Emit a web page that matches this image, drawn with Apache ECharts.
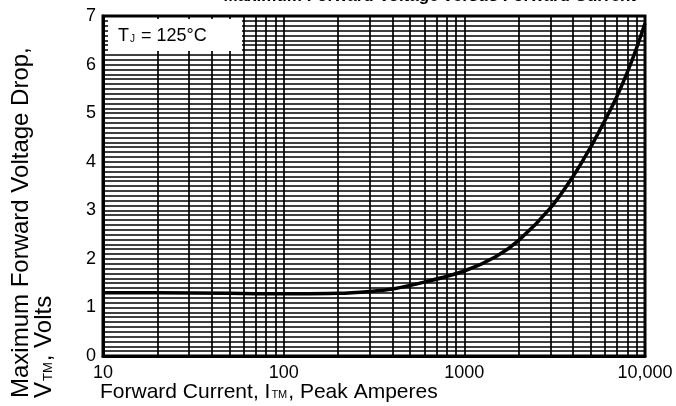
<!DOCTYPE html>
<html>
<head>
<meta charset="utf-8">
<script src="https://cdn.jsdelivr.net/npm/echarts@6/dist/echarts.min.js"></script>
<style>html,body{margin:0;padding:0;background:#fff;}#c{width:676px;height:406px;}</style>
</head>
<body>
<div id="c"></div>
<script>
// Forward current (A) and maximum forward voltage drop (V)
const currents = [10, 20, 50, 100, 200, 300, 400, 600, 1000, 1500, 2000, 3000, 4000, 5000, 6000, 7000, 8000, 9000, 10000];
const voltages = [1.3, 1.3, 1.29, 1.28, 1.29, 1.33, 1.38, 1.52, 1.75, 2.05, 2.38, 3.05, 3.7, 4.3, 4.85, 5.35, 5.85, 6.35, 6.85];
// log-paper vertical rulings between decades
const gridCurrents = [20, 30, 40, 50, 60, 70, 80, 90, 200, 300, 400, 500, 600, 700, 800, 900, 2000, 3000, 4000, 5000, 6000, 7000, 8000, 9000];
const xTickLabels = {10: '10', 100: '100', 1000: '1000', 10000: '10,000'};

const FONT = 'Liberation Sans, Arial, sans-serif';
const chart = echarts.init(document.getElementById('c'));
chart.setOption({
  animation: false,
  backgroundColor: '#fff',
  grid: {left: 103, right: 31, top: 16, bottom: 50, show: true, borderColor: '#000', borderWidth: 3, backgroundColor: 'transparent'},
  xAxis: {
    type: 'log', logBase: 10, min: 10, max: 10000,
    axisLine: {show: true, lineStyle: {color: '#000', width: 3}},
    axisTick: {show: false},
    axisLabel: {color: '#000', fontSize: 18, fontFamily: FONT, margin: 8,
      formatter: v => xTickLabels[Math.round(v)] || ''},
    splitLine: {show: true, lineStyle: {color: '#000', width: 1.7}},
    minorTick: {show: false}, minorSplitLine: {show: false}
  },
  yAxis: {
    type: 'value', min: 0, max: 7, interval: 1,
    axisLine: {show: true, lineStyle: {color: '#000', width: 3}},
    axisTick: {show: false},
    axisLabel: {color: '#000', fontSize: 18, fontFamily: FONT, margin: 7},
    splitLine: {show: true, lineStyle: {color: '#000', width: 1.7}},
    minorTick: {show: false, splitNumber: 10},
    minorSplitLine: {show: true, lineStyle: {color: '#000', width: 1.7}}
  },
  series: [{
    type: 'line',
    data: currents.map((c, i) => [c, voltages[i]]),
    smooth: 0.3,
    symbol: 'none',
    lineStyle: {color: '#000', width: 3.5},
    z: 5,
    markLine: {
      silent: true, symbol: 'none', label: {show: false},
      lineStyle: {color: '#000', width: 1.7, type: 'solid'},
      data: gridCurrents.map(v => ({xAxis: v}))
    }
  }],
  graphic: [
    {type: 'rect', shape: {x: 108, y: 19, width: 134, height: 32}, style: {fill: '#fff'}, z: 10},
    {type: 'text', x: 118, y: 36, z: 11, style: {
      text: '{a|T}{b|J}{a| = 125°C}', textVerticalAlign: 'middle',
      rich: {a: {fontSize: 18, fontFamily: FONT, fill: '#000'}, b: {fontSize: 10, fontFamily: FONT, fill: '#000', padding: [6, 1, 0, 1]}}
    }},
    {type: 'text', x: 100, y: 392, z: 11, style: {
      text: '{a|Forward Current, I}{b|TM}{a|, Peak Amperes}', textVerticalAlign: 'middle',
      rich: {a: {fontSize: 21, fontFamily: FONT, fill: '#000'}, b: {fontSize: 11, fontFamily: FONT, fill: '#000', padding: [6, 1, 0, 1]}}
    }},
    {type: 'text', x: 21, y: 398, rotation: Math.PI / 2, z: 11, style: {
      text: 'Maximum Forward Voltage Drop,', textVerticalAlign: 'middle', textAlign: 'left',
      fontSize: 24, fontFamily: FONT, fill: '#000'
    }},
    {type: 'text', x: 44, y: 398, rotation: Math.PI / 2, z: 11, style: {
      text: '{a|V}{b|TM}{a|, Volts}', textVerticalAlign: 'middle', textAlign: 'left',
      rich: {a: {fontSize: 24, fontFamily: FONT, fill: '#000'}, b: {fontSize: 13, fontFamily: FONT, fill: '#000', padding: [8, 1, 0, 1]}}
    }},
    {type: 'text', x: 636, y: 5, z: 11, style: {
      text: 'Maximum Forward Voltage versus Forward Current', textAlign: 'right', textVerticalAlign: 'bottom',
      fontSize: 17, fontWeight: 'bold', fontFamily: FONT, fill: '#000'
    }}
  ]
});
</script>
</body>
</html>
